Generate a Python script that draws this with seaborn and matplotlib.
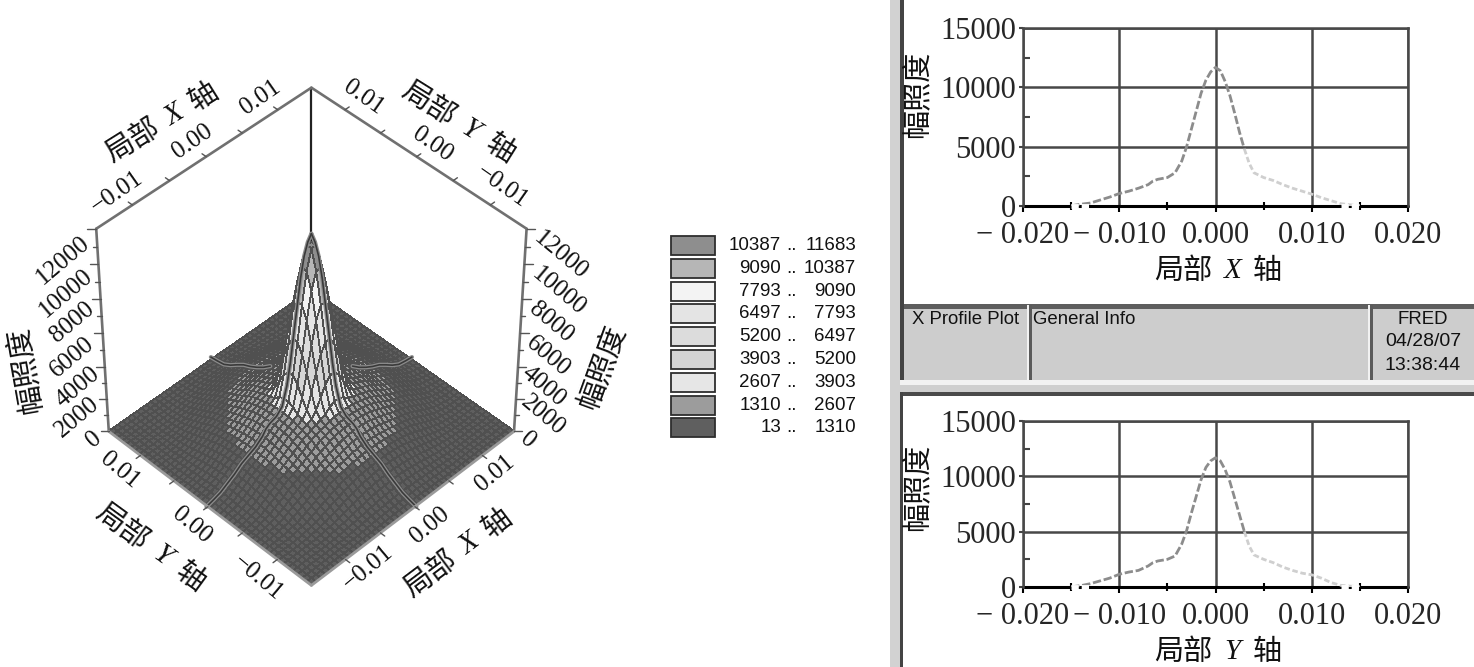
import numpy as np
import seaborn as sns
import matplotlib
matplotlib.use('Agg')
import matplotlib.pyplot as plt
from matplotlib.colors import ListedColormap, BoundaryNorm
from matplotlib.patches import Rectangle

# values
profile_pos = [-0.015, -0.014, -0.013, -0.012, -0.011, -0.010, -0.009, -0.008, -0.007, -0.0065, -0.006, -0.005,
               -0.0042, -0.0035, -0.003, -0.0025, -0.002, -0.0015, -0.001, -0.0005, 0.0,
               0.0005, 0.001, 0.0015, 0.002, 0.0025, 0.003, 0.0035, 0.004, 0.005, 0.006,
               0.007, 0.008, 0.009, 0.010, 0.011, 0.012, 0.013, 0.014, 0.015]
profile_x = [20, 150, 250, 500, 750, 1050, 1250, 1500, 1800, 2100, 2250, 2400,
             2800, 3800, 5000, 6500, 8000, 9500, 10600, 11300, 11683,
             11400, 10500, 9300, 7800, 6200, 4800, 3600, 2800, 2400, 2150,
             1800, 1500, 1250, 1000, 700, 450, 200, 100, 30]
profile_y = [20, 120, 300, 550, 800, 1150, 1350, 1500, 1900, 2200, 2350, 2500,
             2800, 3900, 5100, 6700, 8200, 9700, 10800, 11400, 11683,
             11400, 10600, 9500, 8000, 6500, 5000, 3700, 2900, 2500, 2200,
             1800, 1500, 1250, 1100, 800, 400, 150, 80, 30]

level_edges = [13, 1310, 2607, 3903, 5200, 6497, 7793, 9090, 10387, 11683]
level_colors = ['#5f5f5f', '#9c9c9c', '#e6e6e6', '#d4d4d4', '#dcdcdc', '#e4e4e4', '#f3f3f3', '#b6b6b6', '#8e8e8e']

xy_ticks = [-0.01, -0.005, 0.0, 0.005, 0.01]
z_ticks = [0, 1000, 2000, 3000, 4000, 5000, 6000, 7000, 8000, 9000, 10000, 11000, 12000]
xy_limit = 0.0148
z_limit = 12000

panel_xticks = [-0.02, -0.01, 0.0, 0.01, 0.02]
panel_xlabels = ['\u2212 0.020', '\u2212 0.010', '0.000', '0.010', '0.020']
panel_yticks = [0, 5000, 10000, 15000]

W, H = 1474, 667
sns.set_theme(style='white')
plt.rcParams['font.family'] = ['Liberation Serif', 'Noto Sans CJK SC']
fig = plt.figure(figsize=(W / 100, H / 100), dpi=100)
CJK = ['Noto Sans CJK SC', 'Liberation Serif']


def put(px, py, s, size, rot=0, ha='center', family=None, **kw):
    fig.text(px / W, 1 - py / H, s, fontsize=size, rotation=rot, ha=ha, va='center',
             rotation_mode='anchor', family=family or ['Liberation Serif', 'Noto Sans CJK SC'],
             color='#111111', **kw)


def axis_label(px, py, letter, rot, size=21):
    # mixed label: upright CJK with an italic latin letter
    em = size * 100 / 72
    c, s = np.cos(np.radians(rot)), np.sin(np.radians(rot))
    for piece, off, italic in [('局部', -1.2, False), (letter, 0.5, True), ('轴', 1.7, False)]:
        put(px + off * em * c, py - off * em * s, piece, size, rot,
            family='Liberation Serif' if italic else CJK, style='italic' if italic else 'normal')


def box(x0, y0, x1, y1, color, **kw):
    fig.add_artist(Rectangle((x0 / W, 1 - y1 / H), (x1 - x0) / W, (y1 - y0) / H, transform=fig.transFigure,
                             facecolor=color, edgecolor=kw.pop('edgecolor', 'none'), **kw))


# 3d surface, the measured profile turned around the axis
pos = np.array(profile_pos)
mean_val = (np.array(profile_x) + np.array(profile_y)) / 2
half = pos >= 0
radial_r = pos[half]
radial_z = (mean_val[half] + mean_val[::-1][half]) / 2

grid = np.linspace(-xy_limit, xy_limit, 46)
X, Y = np.meshgrid(grid, grid)
Z = np.interp(np.hypot(X, Y), radial_r, radial_z, right=radial_z[-1])
Zc = (Z[:-1, :-1] + Z[1:, :-1] + Z[:-1, 1:] + Z[1:, 1:]) / 4
cmap = ListedColormap(level_colors)
norm = BoundaryNorm(level_edges, cmap.N, clip=True)

ax3 = fig.add_axes([-8 / W, -8 / H, 622 / W, 1.0], projection='3d', computed_zorder=False)
ax3.patch.set_alpha(0)
ax3.view_init(elev=45, azim=-135)
ax3.set_proj_type('persp', focal_length=1.0)
ax3.set_box_aspect((1, 1, 0.97), zoom=0.79)
surf = ax3.plot_surface(X, Y, Z, facecolors=cmap(norm(Zc)), rstride=1, cstride=1, shade=False,
                        antialiased=False, zorder=2)
surf.set_edgecolor('#505050')
surf.set_linewidth(0.6)

# section lines along the two axes
smooth = (np.array(profile_x) + np.array(profile_y)) / 2 + 40
for keep in [pos <= 0, pos >= 0.006]:
    for col, lw in [('#8c8c8c', 3.0), ('#3a3a3a', 1.2)]:
        ax3.plot(pos[keep], np.zeros(keep.sum()), smooth[keep], color=col, lw=lw, zorder=3)
        ax3.plot(np.zeros(keep.sum()), pos[keep], smooth[keep], color=col, lw=lw, zorder=3)

L = xy_limit
ax3.plot([L, L], [L, L], [0, z_limit], color='#222222', lw=1.6, zorder=1)
for xs, ys, zs in [([-L, L], [L, L], [z_limit, z_limit]), ([L, L], [-L, L], [z_limit, z_limit]),
                   ([-L, -L], [L, L], [0, z_limit]), ([L, L], [-L, -L], [0, z_limit])]:
    ax3.plot(xs, ys, zs, color='#707070', lw=1.9, zorder=4)
for xs, ys in [([-L, L], [-L, -L]), ([-L, -L], [-L, L])]:
    ax3.plot(xs, ys, [0, 0], color='#9a9a9a', lw=2.0, zorder=4)

tick = 0.0006
for t in xy_ticks:
    ax3.plot([t, t], [L, L + tick], [z_limit, z_limit], color='#555555', lw=1, zorder=4)
    ax3.plot([L, L + tick], [t, t], [z_limit, z_limit], color='#555555', lw=1, zorder=4)
    ax3.plot([t, t], [-L, -L - tick], [0, 0], color='#555555', lw=1, zorder=4)
    ax3.plot([-L, -L - tick], [t, t], [0, 0], color='#555555', lw=1, zorder=4)
for t in z_ticks:
    k = tick if t % 2000 == 0 else tick / 2
    ax3.plot([-L, -L - k], [L, L + k], [t, t], color='#555555', lw=1, zorder=4)
    ax3.plot([L + k, L], [-L - k, -L], [t, t], color='#555555', lw=1, zorder=4)
ax3.set_xlim(-L, L)
ax3.set_ylim(-L, L)
ax3.set_zlim(0, z_limit)
ax3.set_axis_off()

# labels round the box
for (px, py), s in zip([(117, 192), (192, 142), (260, 98)], ['\u22120.01', '0.00', '0.01']):
    put(px, py, s, 18, 35)
for (px, py), s in zip([(363, 98), (432, 145), (502, 187)], ['0.01', '0.00', '\u22120.01']):
    put(px, py, s, 18, -35)
for (px, py), s in zip([(120, 470), (192, 525), (258, 578)], ['0.01', '0.00', '\u22120.01']):
    put(px, py, s, 18, -40)
for (px, py), s in zip([(495, 473), (430, 525), (368, 568)], ['0.01', '0.00', '\u22120.01']):
    put(px, py, s, 18, 40)
for (px, py), s in zip([(94, 439), (77, 417), (78, 387), (72, 357), (72, 322), (66, 293), (63, 260)], z_ticks[::2]):
    put(px, py, str(s), 18, 40)
for (px, py), s in zip([(528, 440), (543, 415), (544, 386), (548, 356), (551, 322), (559, 291), (561, 255)], z_ticks[::2]):
    put(px, py, str(s), 18, -40)
axis_label(162, 123, 'X', 32)
axis_label(458, 123, 'Y', -32)
axis_label(150, 548, 'Y', -36)
axis_label(458, 553, 'X', 37)
put(25, 370, '幅照度', 21, 100, family=CJK)
put(602, 367, '幅照度', 21, 70, family=CJK)

# colour key
for i, c in enumerate(level_colors[::-1]):
    yc = 245.5 + i * 22.8
    box(671, yc - 9.5, 715, yc + 9.5, c, edgecolor='#2e2e2e', linewidth=1.3)
    hi, lo = level_edges[-1 - i], level_edges[-2 - i]
    put(781, yc, str(lo), 13.5, ha='right', family='Liberation Sans')
    put(791, yc, '..', 13.5, family='Liberation Sans')
    put(856, yc, str(hi), 13.5, ha='right', family='Liberation Sans')

# window chrome on the right
box(890, 0, 900, H, '#d2d2d2')
box(900, 0, 904, 380, '#444444')
box(904, 305, W, 380, '#cdcdcd')
box(904, 304, W, 309, '#5e5e5e')
box(900, 380, W, 385, '#f2f2f2')
box(900, 385, W, 392, '#cfcfcf')
box(900, 392, W, 396, '#4a4a4a')
box(900, 392, 903, H, '#444444')
for xd in [1030, 1371]:
    box(xd - 3, 305, xd - 1, 380, '#f2f2f2')
    box(xd - 1, 305, xd + 2, 380, '#5a5a5a')
put(912, 319, 'X Profile Plot', 13.4, ha='left', family='Liberation Sans')
put(1033, 319, 'General Info', 13.4, ha='left', family='Liberation Sans')
put(1423, 319, 'FRED', 13.4, family='Liberation Sans')
put(1423, 342, '04/28/07', 14, family='Liberation Sans')
put(1423, 365, '13:38:44', 14, family='Liberation Sans')


def profile_panel(top, bottom, values, letter, label_y):
    ax = fig.add_axes([1023 / W, 1 - bottom / H, (1408 - 1023) / W, (bottom - top) / H])
    ax.set_xlim(-0.02, 0.02)
    ax.set_ylim(0, 15000)
    ax.set_axisbelow(True)
    ax.grid(True, color='#484848', lw=1.8)
    p, v = np.array(profile_pos), np.array(values)
    ax.axhline(0, color='black', lw=2.2, clip_on=False, zorder=2)
    left, right = p <= 0.003, p >= 0.003
    sns.lineplot(x=p[left], y=v[left], ax=ax, color='#8c8c8c', lw=2, linestyle=(0, (3, 1)), zorder=3)
    sns.lineplot(x=p[right], y=v[right], ax=ax, color='#cfcfcf', lw=2, linestyle=(0, (2, 1)), zorder=3)
    for side in [p <= -0.013, p >= 0.013]:
        ax.plot(p[side], np.zeros(side.sum()), color='white', lw=3.5, linestyle=(0, (1.5, 0.6)), zorder=4, clip_on=False)
    ax.set_xticks(panel_xticks, panel_xlabels)
    ax.set_yticks(panel_yticks, [str(t) for t in panel_yticks])
    ax.set_xticks([-0.015, -0.005, 0.005, 0.015], minor=True)
    ax.set_yticks([2500, 7500, 12500], minor=True)
    ax.tick_params(axis='x', which='major', length=4, width=1.5, color='black', labelsize=22, pad=7, bottom=True)
    ax.tick_params(axis='x', which='minor', length=6, width=1.5, color='black', direction='inout', bottom=True)
    ax.tick_params(axis='y', which='major', length=3, width=1.5, color='#444444', labelsize=22, pad=2, left=True)
    ax.tick_params(axis='y', which='minor', length=5, width=1.5, color='#444444', direction='in', left=True)
    for name, sp in ax.spines.items():
        sp.set_color('#484848')
        sp.set_linewidth(1.8)
    ax.spines['bottom'].set_visible(False)
    put(917, top + 66, '幅照度', 21, 90, family=CJK)
    axis_label(1218, label_y, letter, 0)


profile_panel(28, 206, profile_x, 'X', 271)
profile_panel(421, 587, profile_y, 'Y', 652)

fig.savefig('out.png', dpi=100)
